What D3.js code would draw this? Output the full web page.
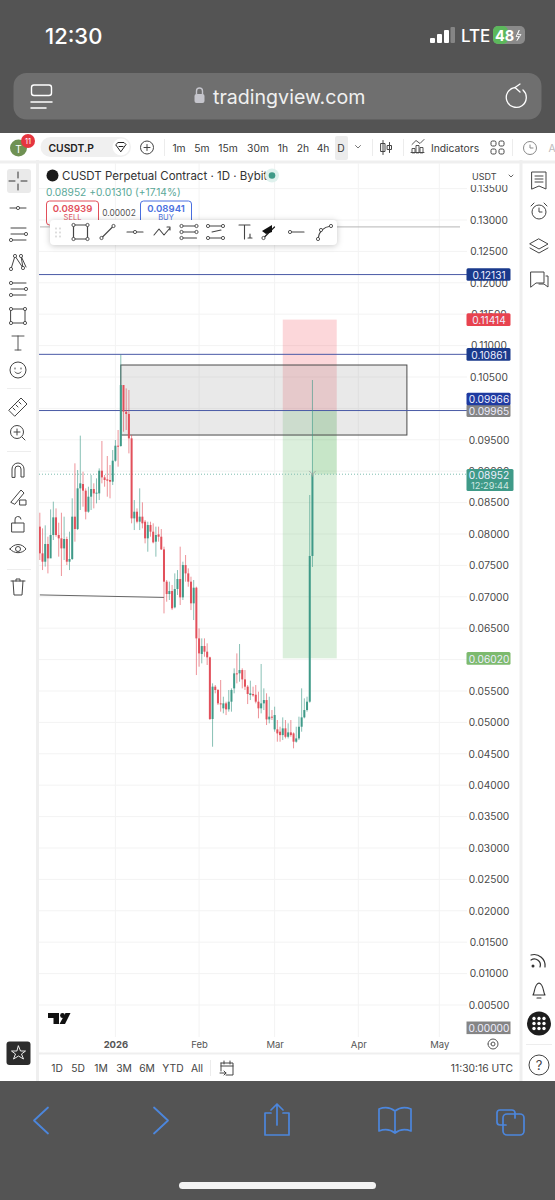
<!DOCTYPE html>
<html><head><meta charset="utf-8">
<script src="https://cdnjs.cloudflare.com/ajax/libs/d3/7.8.5/d3.min.js"></script>
<style>html,body{margin:0;padding:0;background:#545454;overflow:hidden}svg{display:block;font-family:Inter,"Noto Sans",sans-serif}</style>
</head><body><svg id="c" width="555" height="1200"></svg>
<script>
// ---------- chart data ----------
const firstCandle = "2025-12-04";
const opens = [.08117,.07692,.07559,.07841,.07612,.07984,.08265,.07984,.07931,.07771,.07920,.07559,.07602,.08276,.08079,.08727,.08796,.08690,.08355,.08594,.08716,.08647,.08647,.09008,.08902,.08870,.08860,.08833,.09167,.09406,.09401,.10372,.09948,.09911,.09523,.08249,.08355,.08196,.08276,.08196,.07931,.08143,.08037,.07878,.07994,.07957,.07755,.07241,.07044,.07092,.06832,.07124,.07283,.06991,.07506,.07373,.07241,.06896,.07145,.06338,.06089,.06216,.06126,.06036,.05054,.05569,.05516,.05303,.05224,.05303,.05208,.05330,.05542,.05781,.05781,.05834,.05685,.05569,.05436,.05452,.05441,.05330,.05224,.05303,.05356,.05048,.05091,.04889,.04889,.04852,.04798,.04905,.04771,.04841,.04825,.04693,.04745,.04931,.05080,.05197,.05330,.07650];
const highs = [.08339,.08090,.08138,.07957,.08392,.08515,.08408,.08180,.08339,.08276,.07957,.08037,.08568,.09125,.09019,.09566,.08992,.08727,.08753,.08939,.08807,.08886,.09045,.09481,.08939,.09242,.09098,.09337,.09497,.09656,.10855,.10372,.10319,.10293,.09576,.08541,.08408,.08727,.08504,.08223,.08196,.08196,.08170,.08117,.08117,.08079,.07798,.07267,.07241,.07188,.07373,.07426,.07798,.07559,.07665,.07453,.07320,.07267,.07161,.06498,.06338,.06338,.06259,.06046,.05622,.05595,.05532,.05675,.05409,.05330,.05516,.05542,.05861,.06099,.06248,.05861,.05834,.05595,.05664,.05569,.05595,.05489,.05930,.05542,.05463,.05409,.05197,.05250,.05038,.04931,.05080,.05038,.04985,.05038,.04841,.04931,.05091,.05542,.05383,.05409,.08621,.10452];
const lows = [.07586,.07426,.07480,.07373,.07798,.07904,.07957,.07639,.07331,.07586,.07506,.07426,.07586,.07878,.08063,.08382,.08435,.08233,.08339,.08382,.08408,.08488,.08541,.08807,.08753,.08594,.08568,.08780,.09152,.09072,.09390,.09629,.09656,.09284,.08170,.08063,.08170,.08063,.08090,.07851,.07718,.07957,.07851,.07639,.07878,.07745,.06736,.06922,.06949,.06789,.06816,.07028,.06869,.06949,.07241,.07161,.06789,.06630,.05754,.05887,.05940,.06046,.05914,.05038,.04613,.05463,.05277,.05171,.05144,.05117,.05171,.05171,.05463,.05622,.05648,.05542,.05516,.05292,.05356,.05409,.05303,.05065,.05144,.05197,.04958,.04985,.05038,.04852,.04693,.04693,.04719,.04745,.04745,.04771,.04587,.04677,.04719,.04852,.05065,.05171,.05314,.07475];
const closes = [.07692,.07559,.07841,.07612,.07984,.08265,.07984,.07931,.07771,.07920,.07559,.07602,.08276,.08079,.08727,.08807,.08690,.08355,.08594,.08716,.08647,.08658,.09008,.08902,.08860,.08849,.08833,.09167,.09406,.09390,.10372,.09948,.09911,.09523,.08249,.08355,.08196,.08276,.08170,.07931,.08143,.08037,.07867,.07984,.07957,.07755,.07241,.07044,.07092,.06816,.07124,.07283,.06991,.07506,.07373,.07241,.06896,.07145,.06338,.06099,.06216,.06126,.06036,.05054,.05569,.05516,.05303,.05287,.05303,.05208,.05330,.05516,.05781,.05770,.05834,.05685,.05569,.05452,.05463,.05430,.05330,.05224,.05303,.05356,.05048,.05091,.05075,.05117,.04825,.04798,.04905,.04771,.04841,.04798,.04693,.04745,.04931,.05080,.05197,.05330,.07650,.08952];

const gridTicks = [.135,.13,.125,.12,.115,.11,.105,.1,.095,.09,.085,.08,.075,.07,.065,.06,.055,.05,.045,.04,.035,.03,.025,.02,.015,.01,.005];
const priceTicks = [.135,.13,.125,.12,.115,.11,.105,.095,.09,.085,.08,.075,.07,.065,.06,.055,.05,.045,.04,.035,.03,.025,.02,.015,.01,.005];
const monthTicks = ["2026-01-01","2026-02-01","2026-03-01","2026-04-01","2026-05-01"];
const monthLabels = ["2026","Feb","Mar","Apr","May"];
const blueLevels = [.12131,.10861,.09966];
const zone = {from:"2026-01-03",to:"2026-04-19",top:.10691,bottom:.09576};
const position = {from:"2026-03-04",to:"2026-03-24",stop:.11414,entry:.09966,target:.0602,last:.08952};
const oldLevel = {from:"2025-12-04",to:"2026-01-19",start:.07030,end:.06990};
const priceLabels = [["0.12131",.12131,"#1a3a8c"],["0.11414",.11414,"#e8434f"],["0.10861",.10861,"#1a3a8c"],["0.09965",.09965,"#858585"],["0.06020",.0602,"#7dba6e"]];
const intervals = ["1m","5m","15m","30m","1h","2h","4h","D"];
const intervalX = [179,202,228,258,283,303,323,341];
const ranges = ["1D","5D","1M","3M","6M","YTD","All"];
const rangeX = [57,78,101,124,147,173,197];

// ---------- scales ----------
const T = s => new Date(s+"T00:00:00Z");
const x = d3.scaleUtc().domain([T("2026-01-01"),T("2026-05-01")]).range([115.4,439.3]);
const y = d3.scaleLinear().domain([0,.13]).range([1036.4,220]);
const candles = opens.map((o,i)=>({date:d3.utcDay.offset(T(firstCandle),i),o,h:highs[i],l:lows[i],c:closes[i]}));

const svg = d3.select("#c");
const rect=(g,a,b,w,h,f,extra={})=>{const r=g.append("rect").attr("x",a).attr("y",b).attr("width",w).attr("height",h).attr("fill",f);for(const k in extra)r.attr(k,extra[k]);return r;};
const text=(g,s,a,b,size,f,anchor="middle",weight=400)=>g.append("text").attr("x",a).attr("y",b).attr("font-size",size).attr("fill",f).attr("text-anchor",anchor).attr("font-weight",weight).attr("dominant-baseline","central").text(s);
const icon=(g,d,tx,ty,col="#444",sw=1.1)=>g.append("path").attr("d",d).attr("transform",`translate(${tx},${ty})`).attr("fill","none").attr("stroke",col).attr("stroke-width",sw).attr("stroke-linecap","round").attr("stroke-linejoin","round");
const nodes=(g,pts,tx,ty,col="#444")=>pts.forEach(p=>g.append("circle").attr("cx",tx+p[0]).attr("cy",ty+p[1]).attr("r",1.6).attr("fill","#fff").attr("stroke",col).attr("stroke-width",.9));

// page areas
rect(svg,0,0,555,1200,"#545454");
rect(svg,0,133,555,948,"#fff");
rect(svg,0,160.5,555,3,"#efefef");
rect(svg,36,160,3,921,"#efefef");
rect(svg,519.5,160,3,921,"#efefef");
rect(svg,39,1052.5,481,2,"#efefef");

// status + address bar
const statusG=svg.append("g");
text(statusG,"12:30",45,35.5,22,"#fff","start",500);
[[430,5],[437,9],[444,13]].forEach(b=>rect(statusG,b[0],43-b[1],5,b[1],"#fff",{rx:1}));
rect(statusG,450.5,27,4.5,16,"#858585",{rx:1});
text(statusG,"LTE",461,35.5,17,"#fff","start",500);
rect(statusG,493,26,32,18,"#8a8a8a",{rx:5});
rect(statusG,493,26,15,18,"#5cb85c",{rx:5});
text(statusG,"48",495,35.5,14.5,"#fff","start",700);
icon(statusG,"M1 -5L-2 1H1L-1 5L3 -1H0Z",518,35.5,"#fff",.8);
rect(statusG,13.5,73,528,46.5,"#6f6f6f",{rx:13});
rect(statusG,31.5,85,20,10.5,"none",{rx:2.5,stroke:"#fff","stroke-width":1.4});
icon(statusG,"M0 0H21M0 6H15",31,102,"#fff",1.5);
rect(statusG,194.5,94,10,9,"#c5c5cc",{rx:2});
icon(statusG,"M-3 0V-3A3 3 0 0 1 3 -3V0",199.5,94,"#c5c5cc",1.4);
text(statusG,"tradingview.com",213,96.5,19.6,"#f0f0f0","start");
icon(statusG,"M7 -7A10 10 0 1 1 -1 -9.5M-1 -9.5L4 -13M-1 -9.5L4 -5",516,97,"#fff",1.3);

// header toolbar
const hd=svg.append("g");
hd.append("circle").attr("cx",18.5).attr("cy",148).attr("r",8.5).attr("fill","#6f9153");
text(hd,"T",18.5,148.5,10,"#fff");
hd.append("circle").attr("cx",28).attr("cy",141).attr("r",7).attr("fill","#e5353f");
text(hd,"11",28,141,7.5,"#fff");
rect(hd,40.5,137,90.5,20,"#f0f0f0",{rx:10});
text(hd,"CUSDT.P",48.5,147.5,10.3,"#222","start",600);
hd.append("circle").attr("cx",121).attr("cy",147).attr("r",8.5).attr("fill","#fff");
icon(hd,"M-5 -3L-3 -5H3L5 -3L0 4ZM-2 -1H2",121,147.5,"#222",1);
hd.append("circle").attr("cx",147).attr("cy",147.5).attr("r",6.5).attr("fill","none").attr("stroke","#444");
icon(hd,"M-3 0H3M0 -3V3",147,147.5,"#444",1);
rect(hd,164,139,1,17,"#ececec");
rect(hd,335,136,13,24,"#ececec",{rx:2});
intervals.forEach((s,i)=>text(hd,s,intervalX[i],147.5,10.3,"#3a3a3a"));
icon(hd,"M-2.5 -1.5L0 1L2.5 -1.5",358,147,"#666",.9);
rect(hd,372,139,1,17,"#ececec");
icon(hd,"M-3 -7V7M-5 -4H-1V4H-5ZM3.5 -5V5M1.5 -2H5.5V2H1.5Z",386,147.5,"#444",1);
rect(hd,403,139,1,17,"#ececec");
icon(hd,"M-6 5V1H-3V5ZM-2 5V-2H1V5ZM2 5V0H5V5ZM-6 -3L-2 -7L2 -4L6 -8M-7 5H6",418,147.5,"#444",.9);
text(hd,"Indicators",455,147.5,10.3,"#3a3a3a");
rect(hd,491,141,5,5,"none",{rx:1.5,stroke:"#444"});rect(hd,499,141,5,5,"none",{rx:1.5,stroke:"#444"});
rect(hd,491,149,5,5,"none",{rx:1.5,stroke:"#444"});rect(hd,499,149,5,5,"none",{rx:1.5,stroke:"#444"});
rect(hd,512,139,1,17,"#ececec");
hd.append("circle").attr("cx",530).attr("cy",148).attr("r",6.5).attr("fill","none").attr("stroke","#888");
icon(hd,"M0 -3V0H3",530,148,"#888",1);
text(hd,"A",552,147.5,10.3,"#bbb");

// ---------- chart ----------
svg.append("defs").append("clipPath").attr("id","pane").append("rect").attr("x",39).attr("y",163).attr("width",428).attr("height",874);
const pane=svg.append("g").attr("clip-path","url(#pane)");
const gridCol="#f3f3f3";
pane.append("g").selectAll("line").data(gridTicks).join("line").attr("x1",39).attr("x2",467).attr("y1",d=>y(d)).attr("y2",d=>y(d)).attr("stroke",gridCol);
pane.append("g").selectAll("line").data(monthTicks).join("line").attr("x1",d=>x(T(d))).attr("x2",d=>x(T(d))).attr("y1",163).attr("y2",1037).attr("stroke",gridCol);

// old level and upper drawing
pane.append("line").attr("x1",x(T(oldLevel.from))).attr("x2",x(T(oldLevel.to))).attr("y1",y(oldLevel.start)).attr("y2",y(oldLevel.end)).attr("stroke","#666").attr("stroke-width",1);
pane.append("line").attr("x1",40).attr("x2",460).attr("y1",y(.12890)).attr("y2",y(.12890)).attr("stroke","#b5b5b5");

// long position tool
const px1=x(T(position.from)), px2=x(T(position.to));
pane.append("rect").attr("x",px1).attr("width",px2-px1).attr("y",y(position.stop)).attr("height",y(position.entry)-y(position.stop)).attr("fill","#f23645").attr("fill-opacity",.2);
pane.append("rect").attr("x",px1).attr("width",px2-px1).attr("y",y(position.entry)).attr("height",y(position.target)-y(position.entry)).attr("fill","#4caf50").attr("fill-opacity",.2);
const lastX=x(candles[candles.length-1].date);
pane.append("rect").attr("x",lastX).attr("width",px2-lastX).attr("y",y(position.entry)).attr("height",y(position.last)-y(position.entry)).attr("fill","#4caf50").attr("fill-opacity",.14);

// grey zone
pane.append("rect").attr("x",x(T(zone.from))).attr("width",x(T(zone.to))-x(T(zone.from))).attr("y",y(zone.top)).attr("height",y(zone.bottom)-y(zone.top)).attr("fill","#8f8f8f").attr("fill-opacity",.2).attr("stroke","#4a4a4a").attr("stroke-width",1);

// blue levels
pane.append("g").selectAll("line").data(blueLevels).join("line").attr("x1",39).attr("x2",467).attr("y1",d=>y(d)).attr("y2",d=>y(d)).attr("stroke","#4a5aa6").attr("stroke-width",1);

// last price dotted
pane.append("line").attr("x1",39).attr("x2",467).attr("y1",y(position.last)).attr("y2",y(position.last)).attr("stroke","#7fbdb0").attr("stroke-dasharray","1 2");

// candles
const up="#3f9a88", dn="#e2505b";
const cg=pane.append("g");
cg.selectAll("line").data(candles).join("line").attr("x1",d=>x(d.date)).attr("x2",d=>x(d.date)).attr("y1",d=>y(d.h)).attr("y2",d=>y(d.l)).attr("stroke",d=>d.c>=d.o?up:dn).attr("stroke-opacity",.62).attr("stroke-width",1);
cg.selectAll("rect").data(candles).join("rect").attr("x",d=>x(d.date)-1).attr("width",2).attr("y",d=>y(Math.max(d.o,d.c))).attr("height",d=>Math.max(1,Math.abs(y(d.o)-y(d.c)))).attr("fill",d=>d.c>=d.o?up:dn);
icon(pane,"M-3 -2L0 1L3 -2M0 1V3",lastX,y(position.last)-1,"#9a9a9a",.8);

// price axis
const ax=svg.append("g").attr("transform","translate(489,0)").call(d3.axisRight(y).tickValues(priceTicks).tickFormat(d3.format(".5f")).tickSize(0).tickPadding(0));
ax.select(".domain").remove();
ax.selectAll("text").attr("text-anchor","middle").attr("x",0).attr("font-size",10.2).attr("font-family","Inter").attr("fill","#4a4a4a");

// time axis
const tx=svg.append("g").attr("transform","translate(0,1037)").call(d3.axisBottom(x).tickValues(monthTicks.map(T)).tickFormat((d,i)=>monthLabels[i]).tickSize(0).tickPadding(0));
tx.select(".domain").remove();
tx.selectAll("text").attr("dy",0).attr("y",7).attr("dominant-baseline","central").attr("font-size",9.5).attr("font-family","Inter").attr("fill","#555").attr("font-weight",(d,i)=>i==0?700:400);

// price labels
const pl=svg.append("g");
priceLabels.forEach(d=>{const yy=y(d[1]);rect(pl,466.5,yy-6.3,44,12.6,d[2],{rx:1.5});text(pl,d[0],489,yy+.3,10.2,"#eef");});
rect(pl,466.5,392.7,44,12.6,"#1f3aa0",{rx:1.5});text(pl,"0.09966",489,399.2,10.2,"#eef");
rect(pl,466.5,469,47,22,"#3f9a88",{rx:1.5});text(pl,"0.08952",489,475,10.2,"#eef");text(pl,"12:29:44",490,485,9.2,"#cfe8e2");
rect(pl,466.5,1021.5,44,12.6,"#858585");text(pl,"0.00000",489,1028,10.2,"#eef");

// USDT selector
const us=svg.append("g");
rect(us,469,167,48,18,"#fff",{rx:3});
text(us,"USDT",472,176,9,"#444","start");
icon(us,"M-2 -1L0 1L2 -1",511,176,"#555",.9);

// legend
const lg=svg.append("g");
lg.append("circle").attr("cx",52.5).attr("cy",175.5).attr("r",6).attr("fill","#1a1a1a");
text(lg,"CUSDT Perpetual Contract · 1D · Bybit",62,175.5,11.5,"#333","start");
lg.append("circle").attr("cx",272).attr("cy",175.5).attr("r",7).attr("fill","#dff1ed");
lg.append("circle").attr("cx",272).attr("cy",175.5).attr("r",3.3).attr("fill","#3f9a88");
text(lg,"0.08952 +0.01310 (+17.14%)",46,191.5,10.2,"#5aa898","start");
rect(lg,46.5,201,52,24,"#fff",{rx:3,stroke:"#e2505b"});
text(lg,"0.08939",72.5,208,9.6,"#e2505b","middle",600);
text(lg,"SELL",72.5,217.5,7.5,"#e2505b");
text(lg,"0.00002",119,212.7,8.4,"#555");
rect(lg,140.5,201,51,24,"#fff",{rx:3,stroke:"#4a6fe0"});
text(lg,"0.08941",166,208,9.6,"#4a6fe0","middle",600);
text(lg,"BUY",166,217.5,7.5,"#4a6fe0");

// floating drawing toolbar
const ft=svg.append("g");
rect(ft,50,220,287,25,"#fff",{rx:4,style:"filter:drop-shadow(0 1px 3px rgba(0,0,0,.22))"});
icon(ft,"M0 0V1M0 4V5M0 8V9M4 0V1M4 4V5M4 8V9",56,228,"#bbb",1);
icon(ft,"M-7 -7H7V7H-7Z",80.5,232,"#444",1.2);nodes(ft,[[-7,-7],[7,-7],[-7,7],[7,7]],80.5,232);
icon(ft,"M-6 6L6 -6",107.5,232,"#444",1.1);nodes(ft,[[-6,6],[6,-6]],107.5,232);
icon(ft,"M-8 0H8",135,232,"#444",1.1);nodes(ft,[[0,0]],135,232);
icon(ft,"M-8 3L-3 -3L2 3L8 -4M5 -5H8V-2",162,232,"#444",1.1);
icon(ft,"M-7 -6H8M-7 0H8M-7 6H8",188.5,232,"#444",1.1);nodes(ft,[[-7,-6],[8,-6],[-7,0],[8,0],[-7,6]],188.5,232);
icon(ft,"M-7 -6H8M-7 6H8M-3 0L6 -2",215,232,"#444",1.1);nodes(ft,[[-7,-6],[8,-6],[-7,6],[8,6]],215,232);
icon(ft,"M-6 -7H5M-0.5 -7V7M5 2V6M3 6H7",245,232,"#444",1.1);
icon(ft,"M-6 6L5 -5",269.5,232,"#222",1.2);nodes(ft,[[-6,6]],269.5,232);
ft.append("path").attr("d","M262 231L272 225L272 232L266 234Z").attr("fill","#111");
icon(ft,"M-7 0H7",297,232,"#444",1.1);nodes(ft,[[-7,0]],297,232);
icon(ft,"M-6 7C-5 -1 -1 -5 7 -6",324,232,"#444",1.1);nodes(ft,[[-6,7],[-3,-2],[7,-6]],324,232);

// left toolbar
const lb=svg.append("g");
rect(lb,7,169,24,24,"#eaeaea",{rx:3});
const L=18;
icon(lb,"M-9 0H-3M3 0H9M0 -9V-3M0 3V9",L,181,"#333",1);
icon(lb,"M-8 0H8",L,208,"#444",1);nodes(lb,[[0,0]],L,208);
icon(lb,"M-7 -7H8M-7 -1H8M-7 5H8",L,235,"#444",1);nodes(lb,[[8,-1],[-7,5]],L,235);
icon(lb,"M-7 7L-3 -6L5 6L3 -6L8 5",L,262,"#444",1);nodes(lb,[[-7,7],[-3,-6],[5,6],[3,-6]],L,262);
icon(lb,"M-7 -6H8M-7 0H8M-7 6H8",L,289,"#444",1);nodes(lb,[[-7,-6],[8,0],[-7,6]],L,289);
icon(lb,"M-7 -7H7V7H-7Z",L,316,"#444",1);nodes(lb,[[-7,-7],[7,-7],[-7,7],[7,7]],L,316);
icon(lb,"M-6 -7H6M0 -7V7M-3 7H3",L,343,"#444",.9);
lb.append("circle").attr("cx",L).attr("cy",370).attr("r",8).attr("fill","none").attr("stroke","#444");
icon(lb,"M-3 -2V-1M3 -2V-1M-3 2C-1 4 1 4 3 2",L,370,"#444",1);
rect(lb,7,388,24,1,"#ededed");
icon(lb,"M-9 3L3 -9L9 -3L-3 9ZM-5 1L-3 3M-2 -2L0 0M1 -5L3 -3",L,407,"#444",1);
lb.append("circle").attr("cx",L-1).attr("cy",432).attr("r",6.5).attr("fill","none").attr("stroke","#444");
icon(lb,"M-3 0H3M0 -3V3M5 5L8 8",L-1,432,"#444",1);
rect(lb,7,451,24,1,"#ededed");
icon(lb,"M-6 7V-1A6 6 0 0 1 6 -1V7H3V-1A3 3 0 0 0 -3 -1V7Z",L,470,"#444",1);
icon(lb,"M-7 6L3 -6L6 -3L-3 8ZM2 4H8V9H2Z",L,496,"#444",1);
icon(lb,"M-6 -1H6V8H-6ZM-3 -1V-4A3 3 0 0 1 3 -5",L,524,"#444",1);
icon(lb,"M-8 0C-4 -6 4 -6 8 0C4 5 -4 5 -8 0Z",L,549,"#444",1);lb.append("circle").attr("cx",L).attr("cy",549).attr("r",2.5).attr("fill","none").attr("stroke","#444");
rect(lb,7,569,24,1,"#ededed");
icon(lb,"M-7 -6H7M-5 -6L-4 8H4L5 -6M-2 -6V-8H2V-6",L,587,"#444",1);
rect(lb,6.5,1041.5,24,23.5,"#2c2c2c",{rx:3});
icon(lb,"M0 -7L2 -2L7 -2L3 1L5 6L0 3L-5 6L-3 1L-7 -2L-2 -2Z",18.5,1053,"#fff",.9);

// right toolbar
const rb=svg.append("g");
const R=539;
icon(rb,"M-7 -8H7V9L0 6L-7 9ZM-4 -4H4M-4 -1H4M-4 2H4",R,180,"#444",1);
rb.append("circle").attr("cx",R).attr("cy",212).attr("r",7).attr("fill","none").attr("stroke","#444");
icon(rb,"M0 -4V0H3M-8 -6L-5 -9M8 -6L5 -9",R,212,"#444",1);
icon(rb,"M0 -7L9 -2L0 3L-9 -2ZM-9 2L0 7L9 2",R,246,"#444",1);
icon(rb,"M-8 -7H5V4H-3L-8 8ZM7 -3H9V8L5 5H0",R,279,"#444",1);
icon(rb,"M-7 -6A11 11 0 0 1 7 6M-7 -1A6 6 0 0 1 2 6",R-1,961,"#333",1.2);rb.append("circle").attr("cx",R-6).attr("cy",966).attr("r",1.5).attr("fill","#333");
icon(rb,"M-6 5C-4 3 -5 -6 0 -7C5 -6 4 3 6 5ZM-2 8H2",R,990,"#333",1.1);
rb.append("circle").attr("cx",539).attr("cy",1023.5).attr("r",12).attr("fill","#1d1d1d");
rb.append("g").selectAll("circle").data(d3.cross([-5,0,5],[-5,0,5])).join("circle").attr("cx",d=>539+d[0]).attr("cy",d=>1023.5+d[1]).attr("r",1.7).attr("fill","#fff");
rb.append("circle").attr("cx",539).attr("cy",1065).attr("r",10).attr("fill","none").attr("stroke","#444");
text(rb,"?",539,1065,13,"#444");
rect(rb,526,1044,26,1,"#ededed");

// bottom bits
const bt=svg.append("g");
bt.append("path").attr("d","M48 1013H59V1024H53.5V1018H48ZM65.5 1013H70.5L65 1024H59.5Z").attr("fill","#111");
bt.append("circle").attr("cx",62.5).attr("cy",1015.5).attr("r",2.4).attr("fill","#111");
icon(bt,"M-5 0A5 5 0 1 0 5 0A5 5 0 1 0 -5 0M-2 0A2 2 0 1 0 2 0A2 2 0 1 0 -2 0",493,1044,"#555",1);
ranges.forEach((s,i)=>text(bt,s,rangeX[i],1068,10.3,"#444"));
rect(bt,210,1060,1,16,"#ececec");
icon(bt,"M-6 -5H6V7H-1M-6 -5V3M-6 -2H6M-3 -7V-4M3 -7V-4M-7 5H-1M-3 3L-1 5L-3 7",227,1068,"#444",1);
text(bt,"11:30:16 UTC",513,1068,10.3,"#444","end");

// bottom safari bar
const sf=svg.append("g");const bl="#4c86dc";
icon(sf,"M7 -13L-7 0L7 13",41,1120.5,bl,1.8);
icon(sf,"M-7 -13L7 0L-7 13",161,1120.5,bl,1.8);
icon(sf,"M-6 -8H-12V14H12V-8H6M0 4V-17M-6 -11L0 -17L6 -11",277,1121,bl,1.7);
icon(sf,"M0 -9C-5 -13 -11 -13 -16 -11V11C-11 9 -5 9 0 13C5 9 11 9 16 11V-11C11 -13 5 -13 0 -9ZM0 -9V13",395,1120,bl,1.7);
rect(sf,503,1114,21,21,"none",{rx:4,stroke:bl,"stroke-width":1.7});
icon(sf,"M-3 -3H-9A3 3 0 0 1 -12 -6V-15A3 3 0 0 1 -9 -18H3A3 3 0 0 1 6 -15V-10",509,1128,bl,1.7);
rect(sf,179,1182,197,7,"#f2f2f2",{rx:3.5});
</script></body></html>
